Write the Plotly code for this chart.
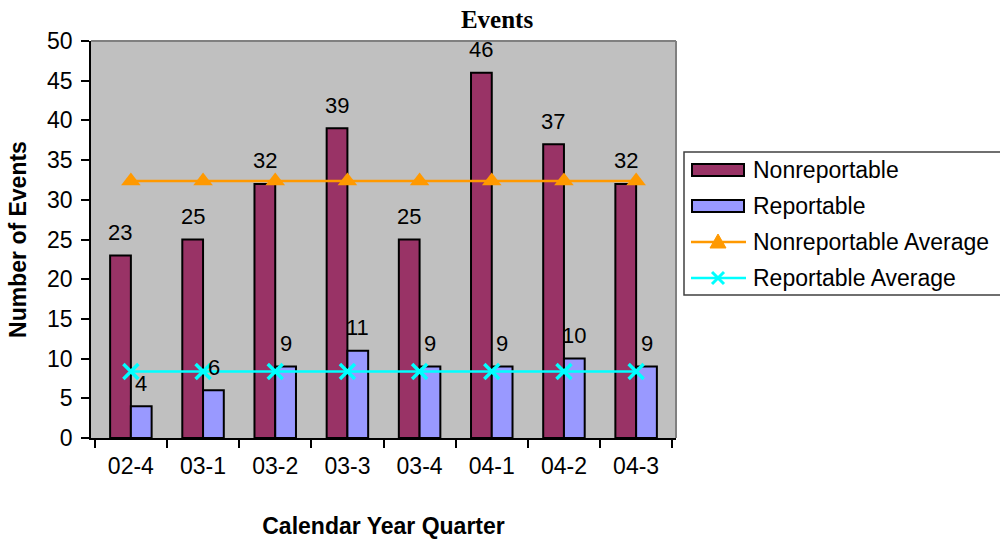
import plotly.graph_objects as go

quarters = ["02-4", "03-1", "03-2", "03-3", "03-4", "04-1", "04-2", "04-3"]
nonreportable = [23, 25, 32, 39, 25, 46, 37, 32]
reportable = [4, 6, 9, 11, 9, 9, 10, 9]
nonrep_avg = [32.375, 32.375, 32.375, 32.375, 32.375, 32.375, 32.375, 32.375]
rep_avg = [8.375, 8.375, 8.375, 8.375, 8.375, 8.375, 8.375, 8.375]

FONT = "Liberation Sans, Arial, sans-serif"
NONREP_COLOR = "#993366"
REP_COLOR = "#9999FF"
NAVG_COLOR = "#FF9900"
RAVG_COLOR = "#00FFFF"

# plot area in pixels
L, R, T, B = 91, 676, 41, 438
W, H = 1000, 539

def px(xp):
    return (xp - L) / (R - L)

def py(yp):
    return (B - yp) / (B - T)

fig = go.Figure()
fig.add_trace(go.Bar(x=quarters, y=nonreportable, name="Nonreportable",
                     marker=dict(color=NONREP_COLOR, line=dict(color="black", width=2))))
fig.add_trace(go.Bar(x=quarters, y=reportable, name="Reportable",
                     marker=dict(color=REP_COLOR, line=dict(color="black", width=2))))
fig.add_trace(go.Scatter(x=quarters, y=nonrep_avg, name="Nonreportable Average",
                         mode="lines+markers",
                         line=dict(color=NAVG_COLOR, width=2.5),
                         marker=dict(symbol="triangle-up", size=17, color=NAVG_COLOR)))
fig.add_trace(go.Scatter(x=quarters, y=rep_avg, name="Reportable Average",
                         mode="lines+markers",
                         line=dict(color=RAVG_COLOR, width=2.5),
                         marker=dict(symbol="x-thin", size=15,
                                     line=dict(color=RAVG_COLOR, width=3.5))))

annotations = []
for q, v in zip(quarters, nonreportable):
    annotations.append(dict(x=q, y=v, text=str(v), showarrow=False, xshift=-10.5,
                            yshift=23, font=dict(family=FONT, size=22, color="black")))
for q, v in zip(quarters, reportable):
    annotations.append(dict(x=q, y=v, text=str(v), showarrow=False, xshift=10.5,
                            yshift=23, font=dict(family=FONT, size=22, color="black")))

# manual legend (wide bar symbols like the reference)
shapes = []
shapes.append(dict(type="rect", xref="paper", yref="paper",
                   x0=px(684), x1=px(1004), y0=py(295), y1=py(152),
                   line=dict(color="#404040", width=1.5), fillcolor="white", layer="above"))
legend_items = [
    ("Nonreportable", "bar", NONREP_COLOR),
    ("Reportable", "bar", REP_COLOR),
    ("Nonreportable Average", "navg", NAVG_COLOR),
    ("Reportable Average", "ravg", RAVG_COLOR),
]
row_y = [170, 206, 242, 278]
for (label, kind, color), yc in zip(legend_items, row_y):
    if kind == "bar":
        shapes.append(dict(type="rect", xref="paper", yref="paper",
                           x0=px(692), x1=px(744), y0=py(yc + 6), y1=py(yc - 6),
                           line=dict(color="black", width=2), fillcolor=color, layer="above"))
    else:
        shapes.append(dict(type="line", xref="paper", yref="paper",
                           x0=px(691), x1=px(746), y0=py(yc), y1=py(yc),
                           line=dict(color=color, width=2.5), layer="above"))
        if kind == "navg":
            shapes.append(dict(type="path", xref="paper", yref="paper", layer="above",
                               path="M {},{} L {},{} L {},{} Z".format(
                                   px(710), py(yc + 6), px(726), py(yc + 6), px(718), py(yc - 8)),
                               fillcolor=color, line=dict(color=color, width=1)))
        else:
            shapes.append(dict(type="line", xref="paper", yref="paper", layer="above",
                               x0=px(712), x1=px(724), y0=py(yc - 6), y1=py(yc + 6),
                               line=dict(color=color, width=3)))
            shapes.append(dict(type="line", xref="paper", yref="paper", layer="above",
                               x0=px(712), x1=px(724), y0=py(yc + 6), y1=py(yc - 6),
                               line=dict(color=color, width=3)))
    annotations.append(dict(xref="paper", yref="paper", x=px(751), y=py(yc),
                            xanchor="left", yanchor="middle", showarrow=False,
                            text=label, font=dict(family=FONT, size=23, color="black")))

# gray frame on top/right of plot area
shapes.append(dict(type="line", xref="paper", yref="paper", x0=0, x1=1, y0=1, y1=1,
                   line=dict(color="#808080", width=2)))
shapes.append(dict(type="line", xref="paper", yref="paper", x0=1, x1=1, y0=0, y1=1,
                   line=dict(color="#808080", width=2)))

fig.update_layout(
    width=W, height=H,
    margin=dict(l=L, r=W - R, t=T, b=H - B),
    paper_bgcolor="white", plot_bgcolor="#C0C0C0",
    barmode="group", bargap=0.425, bargroupgap=0,
    title=dict(text="<b>Events</b>", x=0.497, xref="container", xanchor="center",
               y=1 - 19 / H, yref="container", yanchor="middle",
               font=dict(family="Liberation Serif, Times New Roman, serif", size=25, color="black")),
    showlegend=False,
    annotations=annotations,
    shapes=shapes,
    font=dict(family=FONT, color="black"),
)

fig.update_xaxes(
    type="category", automargin=False,
    showline=True, linecolor="black", linewidth=1.5, mirror=False,
    ticks="outside", ticklen=8, tickcolor="black", tickwidth=1.5, tickson="boundaries",
    ticklabelstandoff=7,
    tickfont=dict(family=FONT, size=23, color="black"),
    showgrid=False,
    title=dict(text="<b>Calendar Year Quarter</b>", font=dict(family=FONT, size=23), standoff=41),
)
fig.update_yaxes(
    range=[0, 50], dtick=5, automargin=False,
    showline=True, linecolor="black", linewidth=1.5,
    ticks="outside", ticklen=8, tickcolor="black", tickwidth=1.5,
    ticklabelstandoff=4,
    tickfont=dict(family=FONT, size=23, color="black"),
    showgrid=False, zeroline=False,
    title=dict(text="<b>Number of Events</b>", font=dict(family=FONT, size=23), standoff=14),
)
# inside halves of the crossing tick marks
n = len(quarters)
fig.update_layout(
    xaxis2=dict(overlaying="x", anchor="y", side="bottom", range=[-0.5, n - 0.5],
                tickvals=[i - 0.5 for i in range(n + 1)], ticks="inside", ticklen=8,
                tickcolor="black", tickwidth=1.5, showticklabels=False, showgrid=False,
                zeroline=False, showline=False),
    yaxis2=dict(overlaying="y", anchor="x", side="left", range=[0, 50], dtick=5,
                ticks="inside", ticklen=8, tickcolor="black", tickwidth=1.5,
                showticklabels=False, showgrid=False, zeroline=False, showline=False),
)

fig.write_html("out.html")
